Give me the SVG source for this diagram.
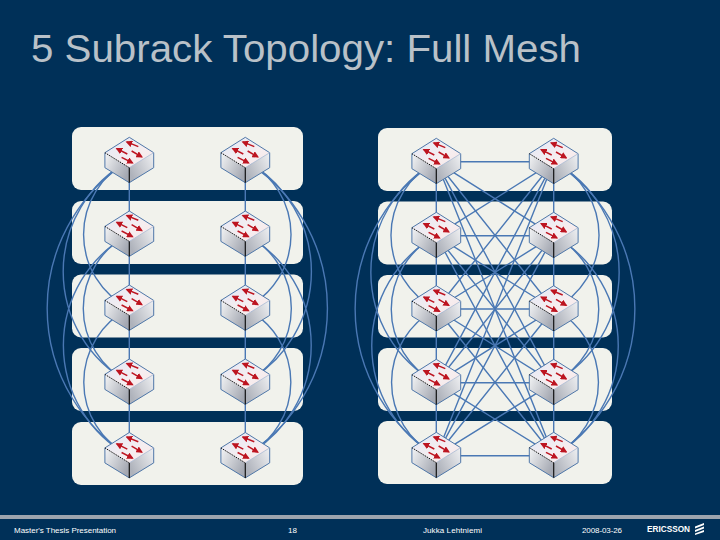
<svg xmlns="http://www.w3.org/2000/svg" xmlns:xlink="http://www.w3.org/1999/xlink" width="720" height="540" viewBox="0 0 720 540">
<style>
.panel{fill:#f1f2ec}
.c{fill:none;stroke:#4a78b4;stroke-width:1.4}
.t{fill:#ffffff;font-family:"Liberation Sans",Arial,sans-serif;font-size:8px}
.title{fill:#b9c1c8;font-family:"Liberation Sans",Arial,sans-serif;font-size:38px}
.edge{fill:none;stroke:#4f77a8;stroke-width:1}
.arw{stroke:#bd1420;stroke-width:1.5;fill:none;marker-end:url(#head)}
</style>
<defs>
<marker id="head" markerWidth="4.500" markerHeight="4.500" refX="3.600" refY="2.250" orient="auto" markerUnits="strokeWidth"><path d="M0 0L4.500 2.250L0 4.500Z" fill="#bd1420"/></marker>
<linearGradient id="top" x1="0" y1="0" x2="1" y2="1"><stop offset="0" stop-color="#e2e8f6"/><stop offset="0.6" stop-color="#f6eef0"/><stop offset="1" stop-color="#f8e6e6"/></linearGradient>
<linearGradient id="left" x1="0" y1="0" x2="1" y2="0.6"><stop offset="0" stop-color="#f4f5f6"/><stop offset="1" stop-color="#a4a8b2"/></linearGradient>
<linearGradient id="right" x1="0" y1="0.6" x2="1" y2="0"><stop offset="0" stop-color="#aeb2bb"/><stop offset="1" stop-color="#f0f1f3"/></linearGradient>
<g id="sw">
<path d="M0 0L24.400 15.400L0 30.400L-24.400 15.400Z" fill="url(#top)"/>
<path d="M-24.400 15.400L0 30.400V45.400L-24.400 30.400Z" fill="url(#left)"/>
<path d="M24.400 15.400L0 30.400V45.400L24.400 30.400Z" fill="url(#right)"/>
<path class="edge" d="M-24.400 15.400L0 0L24.400 15.400V30.400L0 45.400L-24.400 30.400Z"/>
<path d="M24.400 15.400L0 30.400" stroke="#a9bad4" stroke-width="0.8" fill="none"/>
<path d="M-24.400 15.400L0 30.400" stroke="#111" stroke-width="1" stroke-dasharray="1.5 1" fill="none"/>
<path d="M0 30.400V45.400" stroke="#111" stroke-width="1.200" fill="none"/>
<path class="arw" d="M9 9.300L-2.500 4.600"/>
<path class="arw" d="M-2 16.700L-12.500 11.400"/>
<path class="arw" d="M2.300 13.700L12.500 19.600"/>
<path class="arw" d="M-7.700 20L3.200 25.600"/>
</g>
</defs>
<rect width="720" height="540" fill="#003058"/>
<text class="title" x="31" y="62" textLength="550" lengthAdjust="spacingAndGlyphs">5 Subrack Topology: Full Mesh</text>
<g id="panels">
<rect class="panel" x="72" y="127" width="231" height="63" rx="9"/>
<rect class="panel" x="72" y="201" width="231" height="63" rx="9"/>
<rect class="panel" x="72" y="274.500" width="231" height="63" rx="9"/>
<rect class="panel" x="72" y="348" width="231" height="63" rx="9"/>
<rect class="panel" x="72" y="422" width="231" height="63" rx="9"/>
<rect class="panel" x="378" y="128" width="234" height="63" rx="9"/>
<rect class="panel" x="378" y="201.500" width="234" height="63" rx="9"/>
<rect class="panel" x="378" y="275" width="234" height="62.500" rx="9"/>
<rect class="panel" x="378" y="348" width="234" height="63" rx="9"/>
<rect class="panel" x="378" y="421" width="234" height="63" rx="9"/>
</g>
<g id="connectors">
<path class="c" d="M129.300 160V455M245.300 160V455"/>
<path class="c" d="M129.300 160.700A82.500 82.500 0 0 0 129.300 308.400M129.300 234.400A82.500 82.500 0 0 0 129.300 382.400M129.300 308.400A82.500 82.500 0 0 0 129.300 455.900"/>
<path class="c" d="M129.300 160.700A126 126 0 0 0 129.300 382.400M129.300 234.400A126 126 0 0 0 129.300 455.900"/>
<path class="c" d="M129.300 160.700A173.700 173.700 0 0 0 129.300 455.900"/>
<path class="c" d="M245.300 160.700A82.500 82.500 0 0 1 245.300 308.400M245.300 234.400A82.500 82.500 0 0 1 245.300 382.400M245.300 308.400A82.500 82.500 0 0 1 245.300 455.900"/>
<path class="c" d="M245.300 160.700A126 126 0 0 1 245.300 382.400M245.300 234.400A126 126 0 0 1 245.300 455.900"/>
<path class="c" d="M245.300 160.700A173.700 173.700 0 0 1 245.300 455.900"/>
<path class="c" d="M436.300 161V455M553.700 161V455"/>
<path class="c" d="M436.300 161.700A82.500 82.500 0 0 0 436.300 309M436.300 235.700A82.500 82.500 0 0 0 436.300 382.700M436.300 309A82.500 82.500 0 0 0 436.300 455.700"/>
<path class="c" d="M436.300 161.700A126 126 0 0 0 436.300 382.700M436.300 235.700A126 126 0 0 0 436.300 455.700"/>
<path class="c" d="M436.300 161.700A173.700 173.700 0 0 0 436.300 455.700"/>
<path class="c" d="M553.700 161.700A82.500 82.500 0 0 1 553.700 309M553.700 235.700A82.500 82.500 0 0 1 553.700 382.700M553.700 309A82.500 82.500 0 0 1 553.700 455.700"/>
<path class="c" d="M553.700 161.700A126 126 0 0 1 553.700 382.700M553.700 235.700A126 126 0 0 1 553.700 455.700"/>
<path class="c" d="M553.700 161.700A173.700 173.700 0 0 1 553.700 455.700"/>
<path class="c" d="M436.300 161.700H553.700M436.300 235.700H553.700M436.300 309H553.700M436.300 382.700H553.700M436.300 455.700H553.700"/>
<path class="c" d="M436.300 161.700L553.700 235.700M436.300 161.700L553.700 309M436.300 161.700L553.700 382.700M436.300 161.700L553.700 455.700"/>
<path class="c" d="M436.300 235.700L553.700 161.700M436.300 235.700L553.700 309M436.300 235.700L553.700 382.700M436.300 235.700L553.700 455.700"/>
<path class="c" d="M436.300 309L553.700 161.700M436.300 309L553.700 235.700M436.300 309L553.700 382.700M436.300 309L553.700 455.700"/>
<path class="c" d="M436.300 382.700L553.700 161.700M436.300 382.700L553.700 235.700M436.300 382.700L553.700 309M436.300 382.700L553.700 455.700"/>
<path class="c" d="M436.300 455.700L553.700 161.700M436.300 455.700L553.700 235.700M436.300 455.700L553.700 309M436.300 455.700L553.700 382.700"/>
</g>
<g id="n-l1a"><use xlink:href="#sw" href="#sw" x="129.300" y="137.300"/></g>
<g id="n-l1b"><use xlink:href="#sw" href="#sw" x="245.300" y="137.300"/></g>
<g id="n-l2a"><use xlink:href="#sw" href="#sw" x="129.300" y="211"/></g>
<g id="n-l2b"><use xlink:href="#sw" href="#sw" x="245.300" y="211"/></g>
<g id="n-l3a"><use xlink:href="#sw" href="#sw" x="129.300" y="285"/></g>
<g id="n-l3b"><use xlink:href="#sw" href="#sw" x="245.300" y="285"/></g>
<g id="n-l4a"><use xlink:href="#sw" href="#sw" x="129.300" y="359"/></g>
<g id="n-l4b"><use xlink:href="#sw" href="#sw" x="245.300" y="359"/></g>
<g id="n-l5a"><use xlink:href="#sw" href="#sw" x="129.300" y="432.500"/></g>
<g id="n-l5b"><use xlink:href="#sw" href="#sw" x="245.300" y="432.500"/></g>
<g id="n-r1a"><use xlink:href="#sw" href="#sw" x="436.300" y="138.300"/></g>
<g id="n-r1b"><use xlink:href="#sw" href="#sw" x="553.700" y="138.300"/></g>
<g id="n-r2a"><use xlink:href="#sw" href="#sw" x="436.300" y="212.300"/></g>
<g id="n-r2b"><use xlink:href="#sw" href="#sw" x="553.700" y="212.300"/></g>
<g id="n-r3a"><use xlink:href="#sw" href="#sw" x="436.300" y="285.700"/></g>
<g id="n-r3b"><use xlink:href="#sw" href="#sw" x="553.700" y="285.700"/></g>
<g id="n-r4a"><use xlink:href="#sw" href="#sw" x="436.300" y="359.300"/></g>
<g id="n-r4b"><use xlink:href="#sw" href="#sw" x="553.700" y="359.300"/></g>
<g id="n-r5a"><use xlink:href="#sw" href="#sw" x="436.300" y="432.300"/></g>
<g id="n-r5b"><use xlink:href="#sw" href="#sw" x="553.700" y="432.300"/></g>
<g id="footer">
<rect x="0" y="515" width="720" height="4" fill="#9ca4ae"/>
<text class="t" x="14" y="533" textLength="102">Master's Thesis Presentation</text>
<text class="t" x="288" y="533" textLength="9">18</text>
<text class="t" x="423" y="533" textLength="59">Jukka Lehtniemi</text>
<text class="t" x="582" y="533" textLength="40">2008-03-26</text>
<text x="647" y="532" textLength="43" lengthAdjust="spacingAndGlyphs" fill="#fff" font-family="'Liberation Sans',Arial,sans-serif" font-size="8.500" font-weight="bold">ERICSSON</text>
<path d="M704 523L695 526.500V528.500L704 525ZM704 526.500L695 530V532L704 528.500ZM704 530L695 533.500V535L704 532Z" fill="#fff"/>
</g>
</svg>
